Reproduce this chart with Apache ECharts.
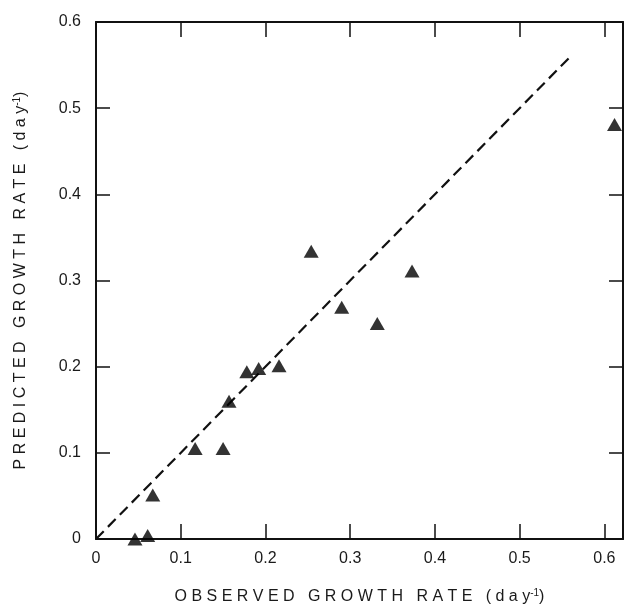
<!DOCTYPE html>
<html>
<head>
<meta charset="utf-8">
<script src="https://cdn.jsdelivr.net/npm/echarts@6/dist/echarts.min.js"></script>
<style>
html,body{margin:0;padding:0;background:#fff;}
#chart{width:629px;height:610px;}
</style>
</head>
<body>
<div id="chart"></div>
<script>
// ---- data ----
var observed  = [0.046, 0.061, 0.067, 0.117, 0.150, 0.157, 0.178, 0.192, 0.216, 0.254, 0.290, 0.332, 0.373, 0.612];
var predicted = [0.000, 0.004, 0.051, 0.105, 0.105, 0.160, 0.194, 0.198, 0.201, 0.334, 0.269, 0.250, 0.311, 0.481];
var lineX = [0, 0.56];
var lineY = [0, 0.56];
var xTickLabels = ['0', '0.1', '0.2', '0.3', '0.4', '0.5', '0.6'];
var yTickLabels = ['0', '0.1', '0.2', '0.3', '0.4', '0.5', '0.6'];
var xTitleMain = 'OBSERVED GROWTH RATE (day';
var yTitleMain = 'PREDICTED GROWTH RATE (day';
var titleSup = '-1';

function spaced(s){
  return s.split(' ').map(function(w){ return w.split('').join(' '); }).join('   ');
}
function labelFor(list){
  return function(v){
    var i = Math.round(v * 10);
    if (Math.abs(v * 10 - i) > 1e-6 || i < 0 || i >= list.length) return '';
    return list[i];
  };
}

var scatterData = observed.map(function(x, i){ return [x, predicted[i]]; });
var lineData = lineX.map(function(x, i){ return [x, lineY[i]]; });

var FONT = '"Liberation Sans", Arial, sans-serif';
var TXT = '#1a1a1a';
var richStyles = {
  t: { fontSize: 16, fontFamily: FONT, color: TXT },
  sup: { fontSize: 10, fontFamily: FONT, color: TXT, verticalAlign: 'top', padding: [0, 0, 8, 0] }
};

var chart = echarts.init(document.getElementById('chart'), null, {renderer: 'canvas'});
var axisLineStyle = { color: '#111', width: 2 };
chart.setOption({
  animation: false,
  backgroundColor: '#fff',
  grid: { left: 96, right: 6, top: 22, bottom: 69, containLabel: false },
  xAxis: [{
    type: 'value', min: 0, max: 0.622, interval: 0.1, position: 'bottom',
    splitLine: { show: false },
    axisLine: { show: true, onZero: false, lineStyle: axisLineStyle },
    axisTick: { show: true, inside: true, length: 15, lineStyle: { color: '#111', width: 1.5 } },
    axisLabel: { show: true, margin: 12, fontSize: 16, fontFamily: FONT, color: TXT, formatter: labelFor(xTickLabels), showMaxLabel: true },
    name: '{t|' + spaced(xTitleMain) + '}{sup|' + titleSup + '}{t|)}',
    nameLocation: 'middle', nameGap: 49,
    nameTextStyle: { rich: richStyles }
  }, {
    type: 'value', min: 0, max: 0.622, interval: 0.1, position: 'top',
    splitLine: { show: false },
    axisLine: { show: true, onZero: false, lineStyle: axisLineStyle },
    axisTick: { show: true, inside: true, length: 15, lineStyle: { color: '#111', width: 1.5 } },
    axisLabel: { show: false }
  }],
  yAxis: [{
    type: 'value', min: 0, max: 0.6, interval: 0.1, position: 'left',
    splitLine: { show: false },
    axisLine: { show: true, onZero: false, lineStyle: axisLineStyle },
    axisTick: { show: true, inside: true, length: 14, lineStyle: { color: '#111', width: 1.5 } },
    axisLabel: { show: true, margin: 15, fontSize: 16, fontFamily: FONT, color: TXT, formatter: labelFor(yTickLabels) },
    name: '{t|' + spaced(yTitleMain) + '}{sup|' + titleSup + '}{t|)}',
    nameLocation: 'middle', nameGap: 66, nameRotate: 90,
    nameTextStyle: { rich: richStyles }
  }, {
    type: 'value', min: 0, max: 0.6, interval: 0.1, position: 'right',
    splitLine: { show: false },
    axisLine: { show: true, onZero: false, lineStyle: axisLineStyle },
    axisTick: { show: true, inside: true, length: 14, lineStyle: { color: '#111', width: 1.5 } },
    axisLabel: { show: false }
  }],
  series: [{
    type: 'line',
    data: lineData,
    xAxisIndex: 0, yAxisIndex: 0,
    showSymbol: false, symbol: 'none',
    lineStyle: { color: '#111', width: 2.2, type: [11, 6] },
    z: 2
  }, {
    type: 'scatter',
    data: scatterData,
    xAxisIndex: 0, yAxisIndex: 0,
    symbol: 'triangle', symbolSize: [15, 13],
    itemStyle: { color: '#000' },
    clip: false,
    z: 3
  }]
});
</script>
</body>
</html>
